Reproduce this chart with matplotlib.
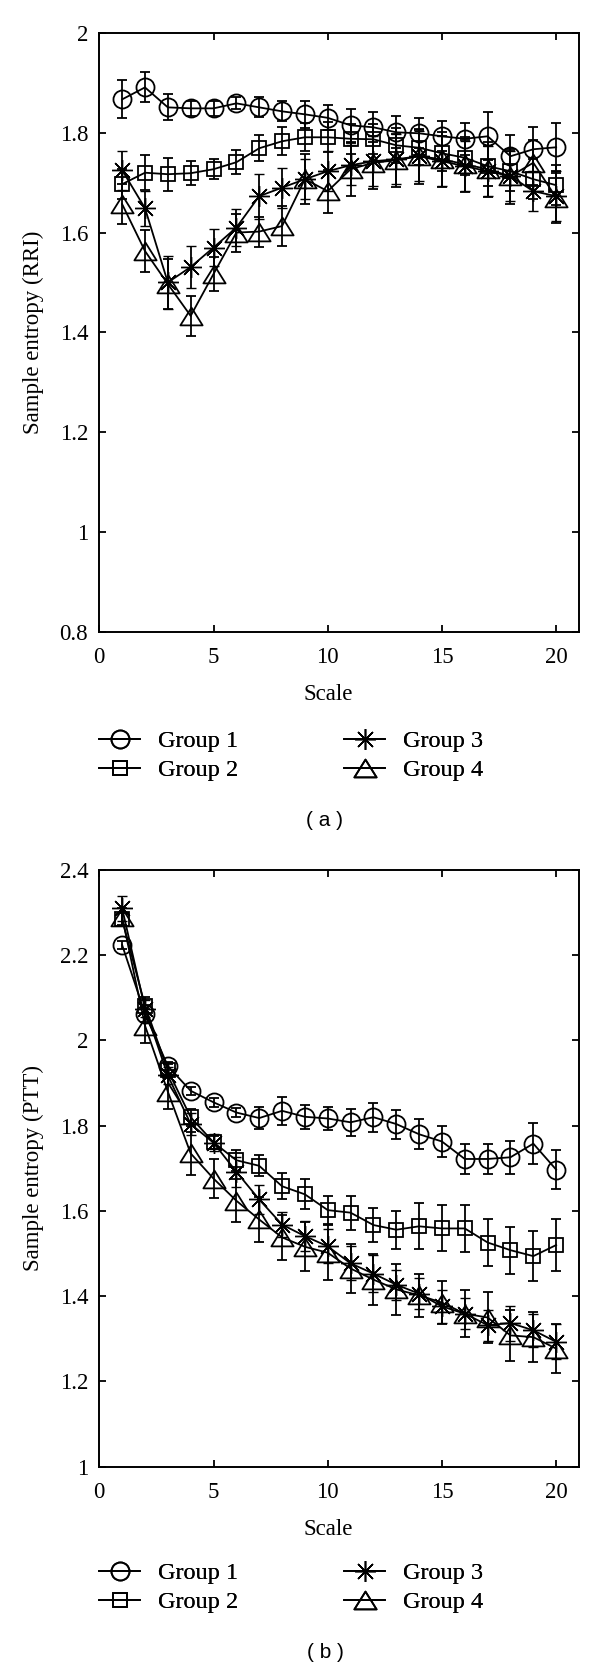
import numpy as np
import matplotlib
matplotlib.use('Agg')
import matplotlib.pyplot as plt
from matplotlib.path import Path

plt.rcParams['font.family'] = ['Liberation Serif', 'DejaVu Serif']

# scales 1..20
scale = np.arange(1, 21)
group_names = ['Group 1', 'Group 2', 'Group 3', 'Group 4']

# (a) RRI sample entropy, mean and error per group
a_g1 = [1.867, 1.891, 1.851, 1.849, 1.849, 1.859, 1.851, 1.843, 1.837, 1.830,
        1.815, 1.811, 1.801, 1.799, 1.793, 1.788, 1.793, 1.753, 1.767, 1.771]
a_g1_err = [0.038, 0.030, 0.026, 0.015, 0.015, 0.012, 0.020, 0.020, 0.027, 0.025,
            0.033, 0.030, 0.032, 0.030, 0.030, 0.032, 0.048, 0.043, 0.045, 0.048]
a_g2 = [1.697, 1.720, 1.717, 1.719, 1.727, 1.741, 1.769, 1.783, 1.791, 1.791,
        1.788, 1.787, 1.775, 1.770, 1.759, 1.750, 1.733, 1.723, 1.707, 1.695]
a_g2_err = [0.030, 0.035, 0.033, 0.024, 0.020, 0.024, 0.026, 0.028, 0.028, 0.030,
            0.030, 0.030, 0.035, 0.035, 0.035, 0.035, 0.040, 0.040, 0.040, 0.040]
a_g3 = [1.725, 1.649, 1.500, 1.531, 1.570, 1.610, 1.673, 1.690, 1.707, 1.723,
        1.735, 1.743, 1.747, 1.753, 1.743, 1.733, 1.723, 1.713, 1.683, 1.673]
a_g3_err = [0.039, 0.035, 0.054, 0.042, 0.037, 0.037, 0.045, 0.040, 0.040, 0.040,
            0.040, 0.050, 0.050, 0.050, 0.050, 0.050, 0.050, 0.050, 0.040, 0.050]
a_g4 = [1.657, 1.563, 1.497, 1.433, 1.517, 1.600, 1.602, 1.613, 1.707, 1.683,
        1.727, 1.740, 1.745, 1.753, 1.747, 1.737, 1.727, 1.713, 1.740, 1.670]
a_g4_err = [0.040, 0.043, 0.050, 0.040, 0.035, 0.038, 0.030, 0.040, 0.050, 0.043,
            0.053, 0.053, 0.053, 0.055, 0.055, 0.055, 0.055, 0.055, 0.045, 0.050]

# (b) PTT sample entropy
b_g1 = [2.224, 2.063, 1.940, 1.882, 1.855, 1.831, 1.818, 1.835, 1.821, 1.817,
        1.808, 1.820, 1.804, 1.780, 1.763, 1.722, 1.722, 1.726, 1.758, 1.697]
b_g1_err = [0.010, 0.020, 0.010, 0.010, 0.010, 0.010, 0.025, 0.033, 0.028, 0.028,
            0.031, 0.034, 0.034, 0.035, 0.036, 0.035, 0.035, 0.039, 0.048, 0.046]
b_g2 = [2.284, 2.082, 1.930, 1.820, 1.761, 1.719, 1.706, 1.658, 1.639, 1.602,
        1.596, 1.567, 1.556, 1.564, 1.559, 1.559, 1.526, 1.508, 1.494, 1.520]
b_g2_err = [0.015, 0.020, 0.015, 0.020, 0.015, 0.025, 0.025, 0.030, 0.035, 0.032,
            0.040, 0.040, 0.045, 0.054, 0.054, 0.055, 0.055, 0.055, 0.058, 0.061]
b_g3 = [2.310, 2.075, 1.918, 1.804, 1.760, 1.692, 1.627, 1.568, 1.541, 1.517,
        1.477, 1.453, 1.427, 1.406, 1.376, 1.359, 1.332, 1.337, 1.320, 1.293]
b_g3_err = [0.030, 0.020, 0.020, 0.025, 0.020, 0.035, 0.033, 0.030, 0.035, 0.040,
            0.040, 0.043, 0.035, 0.037, 0.038, 0.036, 0.036, 0.041, 0.039, 0.041]
b_g4 = [2.290, 2.035, 1.880, 1.735, 1.676, 1.624, 1.580, 1.538, 1.516, 1.502,
        1.465, 1.439, 1.416, 1.402, 1.385, 1.359, 1.350, 1.308, 1.304, 1.277]
b_g4_err = [0.020, 0.040, 0.040, 0.050, 0.045, 0.050, 0.053, 0.053, 0.058, 0.065,
            0.057, 0.059, 0.059, 0.050, 0.050, 0.055, 0.060, 0.059, 0.059, 0.058]

a_yticks = [0.8, 1.0, 1.2, 1.4, 1.6, 1.8, 2.0]
a_ylabels = ['0.8', '1', '1.2', '1.4', '1.6', '1.8', '2']
b_yticks = [1.0, 1.2, 1.4, 1.6, 1.8, 2.0, 2.2, 2.4]
b_ylabels = ['1', '1.2', '1.4', '1.6', '1.8', '2', '2.2', '2.4']
xticks = [0, 5, 10, 15, 20]

# wide open triangle like the matlab one
tri = Path([(-1, -0.8), (1, -0.8), (0, 0.8), (-1, -0.8)], [1, 2, 2, 79])
markers = ['o', 's', (8, 2, 0), tri]
msizes = [13, 10, 15, 16]
medges = [1.3, 1.3, 1.0, 1.3]


def draw_panel(ax, series, errors, yticks, ylabels, ylabel):
    handles = []
    for y, e, m, s, w in zip(series, errors, markers, msizes, medges):
        c = ax.errorbar(scale, y, yerr=e, marker=m, ms=s, mfc='none', mec='k',
                        mew=w, color='k', lw=1.3, elinewidth=1.3,
                        capsize=3.5, capthick=1.3)
        handles.append(c[0])
    ax.set_xlim(0, 21)
    ax.set_ylim(yticks[0], yticks[-1])
    ax.set_xticks(xticks)
    ax.set_yticks(yticks)
    ax.set_yticklabels(ylabels)
    ax.tick_params(direction='in', top=True, right=True, length=5, width=1.3,
                   labelsize=16.5)
    ax.tick_params(axis='x', pad=11)
    ax.tick_params(axis='y', pad=8)
    for sp in ax.spines.values():
        sp.set_linewidth(1.4)
    ax.set_xlabel('Scale', fontsize=16.5)
    ax.xaxis.set_label_coords(10 / 21, -0.088)
    ax.set_ylabel(ylabel, fontsize=16.5, va='center')
    ax.yaxis.set_label_coords(-0.138, 0.5)
    return handles


fig = plt.figure(figsize=(6, 16.68), dpi=100)
H = 1668.0

ax_a = fig.add_axes([0.1655, 0.6213, 0.7995, 0.3589])
h_a = draw_panel(ax_a, [a_g1, a_g2, a_g3, a_g4],
                 [a_g1_err, a_g2_err, a_g3_err, a_g4_err],
                 a_yticks, a_ylabels, 'Sample entropy (RRI)')

ax_b = fig.add_axes([0.1655, 0.1207, 0.7995, 0.3577])
h_b = draw_panel(ax_b, [b_g1, b_g2, b_g3, b_g4],
                 [b_g1_err, b_g2_err, b_g3_err, b_g4_err],
                 b_yticks, b_ylabels, 'Sample entropy (PTT)')


def add_legends(handles, row_top):
    for i, x0 in enumerate([99, 344]):
        leg = fig.legend(handles[2 * i:2 * i + 2], group_names[2 * i:2 * i + 2],
                         loc='upper left', bbox_to_anchor=(x0 / 600, 1 - row_top / H),
                         frameon=False, borderpad=0, borderaxespad=0,
                         handlelength=1.7, handletextpad=0.72, labelspacing=0.3,
                         numpoints=1, fontsize=17.5)
        fig.add_artist(leg)


add_legends(h_a, 730)
add_legends(h_b, 1562)

fig.text(325 / 600, 1 - 820 / H, '( a )', family='Liberation Sans', fontsize=15,
         ha='center', va='center')
fig.text(325 / 600, 1 - 1652 / H, '( b )', family='Liberation Sans', fontsize=15,
         ha='center', va='center')

fig.savefig('out.png', dpi=100)
